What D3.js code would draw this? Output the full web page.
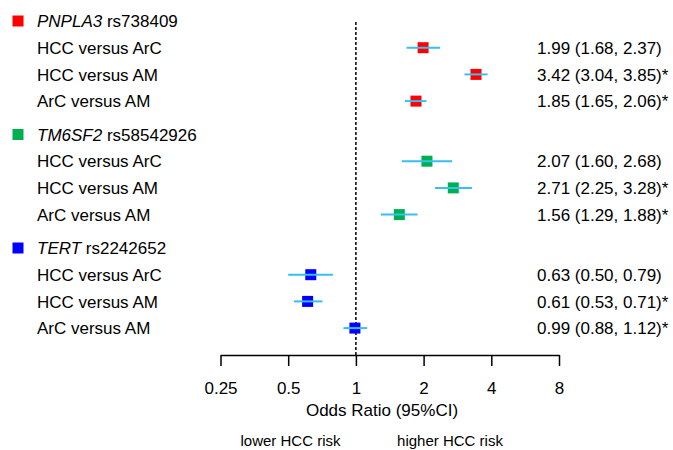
<!DOCTYPE html>
<html>
<head>
<meta charset="utf-8">
<script src="https://cdn.jsdelivr.net/npm/d3@7"></script>
<style>
  body { margin: 0; background: #fff; }
  svg { display: block; font-family: "Liberation Sans", Arial, sans-serif; }
</style>
</head>
<body>
<svg id="chart" width="673" height="450"></svg>
<script>
// ---- data ----
var genes = ["PNPLA3", "TM6SF2", "TERT"];
var snps = ["rs738409", "rs58542926", "rs2242652"];
var geneColors = ["#ff0000", "#00b050", "#0000ff"];
var comparisons = ["HCC versus ArC", "HCC versus AM", "ArC versus AM"];
var oddsRatio = [
  [1.99, 3.42, 1.85],
  [2.07, 2.71, 1.56],
  [0.63, 0.61, 0.99]
];
var ciLower = [
  [1.68, 3.04, 1.65],
  [1.60, 2.25, 1.29],
  [0.50, 0.53, 0.88]
];
var ciUpper = [
  [2.37, 3.85, 2.06],
  [2.68, 3.28, 1.88],
  [0.79, 0.71, 1.12]
];
var significant = [
  [false, true, true],
  [false, true, true],
  [false, true, true]
];
var tickValues = [0.25, 0.5, 1, 2, 4, 8];
var tickLabels = ["0.25", "0.5", "1", "2", "4", "8"];

// ---- layout ----
var svg = d3.select("#chart");
var fs = 17;
var capShift = fs * 0.36;   // baseline offset to center caps on a y position
var labelX = 37;
var estX = 537;
var axisY = 355;

var x = d3.scaleLog().base(2).domain([0.25, 8]).range([220.5, 559]);

// row position: group g, row r (0 = header, 1..3 = comparisons)
function rowY(g, r) { return 21 + g * 113.5 + r * 26.7; }

function fmt(v) { return v.toFixed(2); }

// ---- reference line at OR = 1 ----
svg.append("line")
  .attr("x1", x(1)).attr("x2", x(1))
  .attr("y1", 22).attr("y2", axisY)
  .attr("stroke", "#000")
  .attr("stroke-width", 1.5)
  .attr("stroke-dasharray", "3,2");

// ---- groups ----
genes.forEach(function(gene, g) {
  var hy = rowY(g, 0);

  // legend square
  svg.append("rect")
    .attr("x", 12.5).attr("y", hy - 5.5)
    .attr("width", 11).attr("height", 11)
    .attr("fill", geneColors[g]);

  // header: italic gene + snp id
  var ht = svg.append("text")
    .attr("x", labelX).attr("y", hy + capShift)
    .attr("font-size", fs).attr("fill", "#000");
  ht.append("tspan").attr("font-style", "italic").text(gene);
  ht.append("tspan").text(" " + snps[g]);

  comparisons.forEach(function(comp, i) {
    var y = rowY(g, i + 1);

    svg.append("text")
      .attr("x", labelX).attr("y", y + capShift)
      .attr("font-size", fs).attr("fill", "#000")
      .text(comp);

    // box
    var bs = 11;
    svg.append("rect")
      .attr("x", x(oddsRatio[g][i]) - bs / 2)
      .attr("y", y - bs / 2)
      .attr("width", bs).attr("height", bs)
      .attr("fill", geneColors[g]);

    // confidence interval (drawn on top of the box)
    svg.append("line")
      .attr("x1", x(ciLower[g][i])).attr("x2", x(ciUpper[g][i]))
      .attr("y1", y).attr("y2", y)
      .attr("stroke", "#36bff0")
      .attr("stroke-width", 2);

    // estimate text
    svg.append("text")
      .attr("x", estX).attr("y", y + capShift)
      .attr("font-size", fs).attr("fill", "#000")
      .text(fmt(oddsRatio[g][i]) + " (" + fmt(ciLower[g][i]) + ", " + fmt(ciUpper[g][i]) + ")" +
            (significant[g][i] ? "*" : ""));
  });
});

// ---- x axis ----
var axis = d3.axisBottom(x)
  .tickValues(tickValues)
  .tickFormat(function(d, i) { return tickLabels[i]; })
  .tickSize(11)
  .tickSizeOuter(0)
  .tickPadding(16);

var ax = svg.append("g")
  .attr("transform", "translate(0," + axisY + ")")
  .call(axis);
ax.select(".domain").attr("stroke", "#000").attr("stroke-width", 1.5);
ax.selectAll(".tick line").attr("stroke", "#000").attr("stroke-width", 1.5);
ax.selectAll(".tick text")
  .attr("font-size", fs)
  .attr("font-family", "Liberation Sans, Arial, sans-serif")
  .attr("fill", "#000");

svg.append("text")
  .attr("x", 382).attr("y", 410 + capShift)
  .attr("text-anchor", "middle")
  .attr("font-size", fs)
  .text("Odds Ratio (95%CI)");

svg.append("text")
  .attr("x", 290.5).attr("y", 440 + capShift)
  .attr("text-anchor", "middle")
  .attr("font-size", 15)
  .text("lower HCC risk");

svg.append("text")
  .attr("x", 450).attr("y", 440 + capShift)
  .attr("text-anchor", "middle")
  .attr("font-size", 15)
  .text("higher HCC risk");
</script>
</body>
</html>
